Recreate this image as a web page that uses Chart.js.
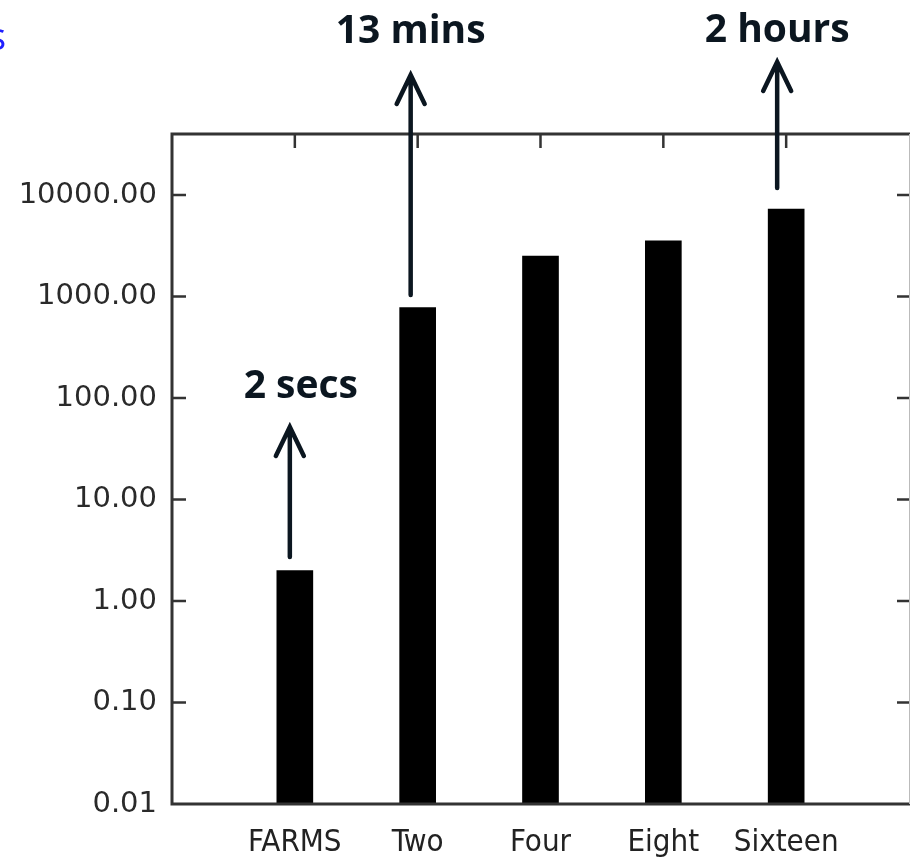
<!DOCTYPE html>
<html>
<head>
<meta charset="utf-8">
<title>Run time</title>
<script src="https://cdn.jsdelivr.net/npm/chart.js@4.4.1/dist/chart.umd.min.js"></script>
<style>
    body { margin: 0; background: #fff; }
    #wrap { width: 910px; height: 857px; position: relative; }
</style>
</head>
<body>
<div id="wrap"><canvas id="runChart" width="910" height="857"></canvas></div>
<script>
// Data (seconds, log scale)
const categories = ['', 'FARMS', 'Two', 'Four', 'Eight', 'Sixteen', ''];
const runTimes = [null, 2, 780, 2500, 3550, 7300, null];
const yTickValues = [0.01, 0.1, 1, 10, 100, 1000, 10000];
const noteLabels = ['2 secs', '13 mins', '2 hours'];
const noteCategories = ['FARMS', 'Two', 'Sixteen'];

document.addEventListener('DOMContentLoaded', function() {
    // annotation layout (pixels)
    const noteLayout = [
        { textDx: 11, textY: 398, tipY: 427, baseY: 557, dx: -5 },
        { textDx: 0, textY: 43, tipY: 75, baseY: 295, dx: -7 },
        { textDx: 0, textY: 42, tipY: 62, baseY: 188, dx: -9 }
    ];

    const frame = {
        id: 'frame',
        afterDraw(chart) {
            const ctx = chart.ctx;
            const area = chart.chartArea;
            const x = chart.scales.x;
            const y = chart.scales.y;
            ctx.save();

            // box
            ctx.strokeStyle = '#333';
            ctx.lineWidth = 3;
            ctx.beginPath();
            ctx.moveTo(area.right + 2, area.top);
            ctx.lineTo(area.left, area.top);
            ctx.lineTo(area.left, area.bottom);
            ctx.lineTo(area.right + 2, area.bottom);
            ctx.stroke();
            ctx.strokeStyle = '#bbb';
            ctx.lineWidth = 1;
            ctx.beginPath();
            ctx.moveTo(area.right + 0.5, area.top);
            ctx.lineTo(area.right + 0.5, area.bottom);
            ctx.stroke();

            // inward ticks
            ctx.strokeStyle = '#333';
            ctx.lineWidth = 2.5;
            ctx.beginPath();
            yTickValues.forEach(v => {
                if (v === y.min) return;
                const py = y.getPixelForValue(v);
                ctx.moveTo(area.left, py);
                ctx.lineTo(area.left + 14, py);
                ctx.moveTo(area.right, py);
                ctx.lineTo(area.right - 12, py);
            });
            categories.forEach((c, i) => {
                if (!c) return;
                const px = x.getPixelForValue(i);
                ctx.moveTo(px, area.top);
                ctx.lineTo(px, area.top + 14);
            });
            ctx.stroke();

            // arrows and notes
            ctx.strokeStyle = '#0b1620';
            ctx.fillStyle = '#0b1620';
            ctx.lineWidth = 4.5;
            ctx.lineCap = 'round';
            ctx.font = 'bold 39px "Open Sans", "Noto Sans", sans-serif';
            ctx.textAlign = 'center';
            ctx.textBaseline = 'alphabetic';
            noteLabels.forEach((txt, k) => {
                const L = noteLayout[k];
                const cx = x.getPixelForValue(categories.indexOf(noteCategories[k])) + L.dx;
                ctx.beginPath();
                ctx.moveTo(cx, L.baseY);
                ctx.lineTo(cx, L.tipY);
                ctx.moveTo(cx - 14, L.tipY + 29);
                ctx.lineTo(cx, L.tipY);
                ctx.lineTo(cx + 14, L.tipY + 29);
                ctx.stroke();
                ctx.fillText(txt, cx + L.textDx, L.textY);
            });

            // clipped heading letter at the far left
            ctx.fillStyle = '#2020ff';
            ctx.font = '38px "Open Sans", sans-serif';
            ctx.textAlign = 'left';
            ctx.fillText('s', -12, 50);
            ctx.restore();
        }
    };

    const ctx = document.getElementById('runChart').getContext('2d');
    new Chart(ctx, {
        type: 'bar',
        data: {
            labels: categories,
            datasets: [{
                data: runTimes,
                backgroundColor: '#000',
                barThickness: 36
            }]
        },
        options: {
            responsive: false,
            animation: false,
            layout: { padding: { top: 134, right: 1, left: 0, bottom: 0 } },
            plugins: {
                legend: { display: false },
                tooltip: { enabled: false }
            },
            scales: {
                x: {
                    offset: false,
                    grid: { display: false, drawTicks: false },
                    border: { display: false },
                    ticks: {
                        color: '#222',
                        padding: 20,
                        maxRotation: 0,
                        autoSkip: false,
                        font: { family: '"Liberation Sans Narrow", "DejaVu Sans Condensed", sans-serif', size: 31 }
                    },
                    afterFit(scale) {
                        scale.height = 53;
                        scale.paddingLeft = 0;
                        scale.paddingRight = 0;
                    }
                },
                y: {
                    type: 'logarithmic',
                    min: 0.01,
                    max: 40000,
                    grid: { display: false, drawTicks: false },
                    border: { display: false },
                    afterBuildTicks(scale) {
                        scale.ticks = yTickValues.map(v => ({ value: v }));
                    },
                    ticks: {
                        color: '#2a2a2a',
                        padding: 15,
                        font: { family: '"DejaVu Sans", sans-serif', size: 29 },
                        callback: v => Number(v).toFixed(2)
                    },
                    afterFit(scale) {
                        scale.width = 172;
                        scale.paddingTop = 0;
                        scale.paddingBottom = 0;
                    }
                }
            }
        },
        plugins: [frame]
    });
});
</script>
</body>
</html>
